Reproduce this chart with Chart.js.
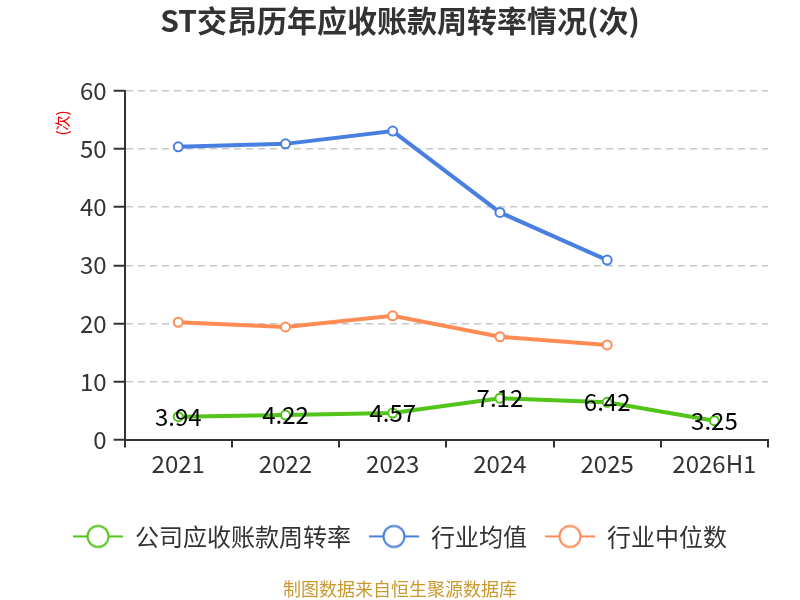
<!DOCTYPE html>
<html><head><meta charset="utf-8">
<script src="https://cdn.jsdelivr.net/npm/chart.js@4.4.1/dist/chart.umd.min.js"></script>
<style>html,body{margin:0;padding:0;background:#fff}#wrap{width:800px;height:600px}</style>
</head><body><div id="wrap"><canvas id="c" width="800" height="600"></canvas></div>
<script>
const categories = ['2021','2022','2023','2024','2025','2026H1'];
const companyRate = [3.94, 4.22, 4.57, 7.12, 6.42, 3.25];
const industryAvg = [50.4, 50.9, 53.1, 39.1, 30.9, null];
const industryMedian = [20.2, 19.4, 21.3, 17.7, 16.3, null];
const seriesNames = ['公司应收账款周转率','行业均值','行业中位数'];
const yUnit = '(次)';
const colors = ['#52c41a','#4a7fe2','#ff8c55'];
const FONT = '"Noto Sans CJK SC","Noto Sans",sans-serif';

function legendIcon(color){
  const c = document.createElement('canvas');
  c.width = 50; c.height = 26;
  const x = c.getContext('2d');
  x.strokeStyle = color; x.lineWidth = 2;
  x.beginPath(); x.moveTo(0,13); x.lineTo(50,13); x.stroke();
  x.beginPath(); x.arc(25,13,10.5,0,Math.PI*2); x.fillStyle='#fff'; x.fill(); x.stroke();
  return c;
}
const icons = colors.map(legendIcon);

const labelPlugin = {
  id:'valLabels',
  afterDatasetsDraw(chart){
    const ctx = chart.ctx;
    const meta = chart.getDatasetMeta(0);
    ctx.save();
    ctx.font = '24px ' + FONT;
    ctx.fillStyle = '#000';
    ctx.textAlign = 'center';
    ctx.textBaseline = 'middle';
    meta.data.forEach((p,i)=>{
      const v = companyRate[i];
      if (v==null) return;
      ctx.fillText(v.toFixed(2), p.x, p.y);
    });
    // y axis unit title
    const y = chart.scales.y;
    ctx.translate(62, y.top + 32);
    ctx.rotate(-Math.PI/2);
    ctx.font = '15px ' + FONT;
    ctx.fillStyle = '#e00';
    ctx.fillText(yUnit, 0, 0);
    ctx.restore();
  }
};

const mk = (label, data, color) => ({
  label, data, borderColor: color, backgroundColor: '#fff',
  borderWidth: 4, pointRadius: 4.5, pointBorderWidth: 2,
  pointBackgroundColor: '#fff', pointBorderColor: color, tension: 0, spanGaps:false
});

new Chart(document.getElementById('c'), {
  type:'line',
  data:{ labels: categories, datasets:[
    mk(seriesNames[0], companyRate, colors[0]),
    mk(seriesNames[1], industryAvg, colors[1]),
    mk(seriesNames[2], industryMedian, colors[2])
  ]},
  options:{
    responsive:false, animation:false, devicePixelRatio:1,
    layout:{ padding:{ left:32, right:32, top:0, bottom:0 } },
    plugins:{
      title:{ display:true, text:'ST交昂历年应收账款周转率情况(次)', color:'#333',
        font:{ size:30, weight:'bold', family: FONT }, padding:{ top:3, bottom:52 } },
      subtitle:{ display:true, position:'bottom', text:'制图数据来自恒生聚源数据库', color:'#c9992e',
        font:{ size:18, family: FONT }, padding:{ top:20, bottom:0 } },
      legend:{ position:'bottom',
        labels:{ usePointStyle:true, pointStyleWidth:50, boxHeight:24, padding:18, color:'#333',
          font:{ size:24, family: FONT },
          generateLabels(chart){
            return chart.data.datasets.map((d,i)=>({
              text:d.label, pointStyle: icons[i], strokeStyle:colors[i], fillStyle:'#fff',
              lineWidth:0, datasetIndex:i, hidden:false, fontColor:'#333'
            }));
          }
        }
      },
      tooltip:{ enabled:false }
    },
    scales:{
      x:{ offset:true,
        grid:{ offset:true, drawOnChartArea:false, drawTicks:true, tickLength:8, color:'#333', lineWidth:2 },
        border:{ color:'#333', width:2 },
        ticks:{ color:'#333', font:{ size:24, family: FONT }, padding:2 },
        afterFit(scale){ scale.height += 26; }
      },
      y:{ min:0, max:60,
        grid:{ color:'#c8c8c8', lineWidth:1.5, tickLength:11, tickColor:'#333', tickWidth:2 },
        border:{ color:'#333', width:2, dash:[7,5] },
        ticks:{ stepSize:10, color:'#333', font:{ size:24, family: FONT }, padding:7 },
        afterFit(scale){ scale.width += 41; }
      }
    }
  },
  plugins:[labelPlugin]
});
</script>
</body></html>
